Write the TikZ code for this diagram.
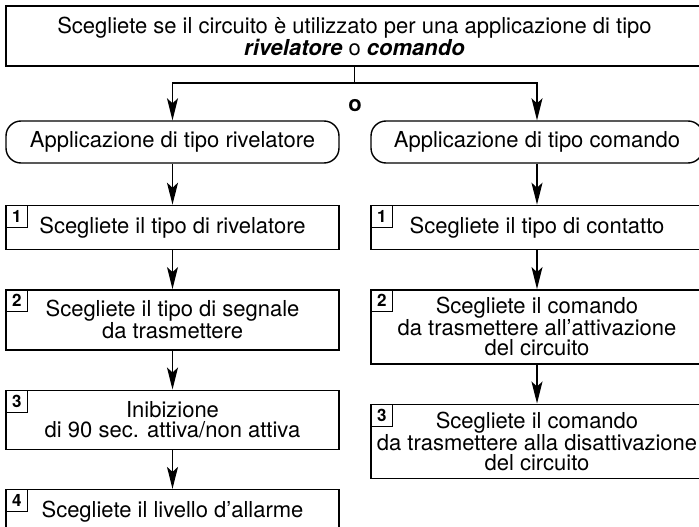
\documentclass[tikz,border=0pt]{standalone}
\usepackage{fontspec}
\setmainfont{TeX Gyre Heros}
\usetikzlibrary{arrows.meta,positioning}

\begin{document}
\begin{tikzpicture}[
  x=1pt, y=-1pt,
  box/.style={rectangle, draw, line width=1.4pt, align=center, inner sep=0pt, minimum width=333pt, font=\fontsize{22}{20}\selectfont},
  head/.style={box, rounded corners=15pt, minimum height=42pt},
  stepbox/.style={box, minimum height=44pt},
  numbox/.style={rectangle, draw, line width=1.1pt, minimum size=22pt, inner sep=0pt, anchor=north west, font=\fontsize{17}{17}\selectfont\bfseries},
  arrow/.style={-{Stealth[length=22pt, width=11pt, inset=5pt]}, line width=1.4pt},
]
  \useasboundingbox (0,0) rectangle (699,527);
  \clip (0,0) rectangle (699,527);

  \node[box, minimum width=697pt, minimum height=60pt] (choice) at (354.5,36) {Scegliete se il circuito è utilizzato per una applicazione di tipo\\\textbf{\textit{rivelatore}} o \textbf{\textit{comando}}};
  \coordinate (split) at (354.5,83);
  \node[font=\fontsize{22}{20}\selectfont\bfseries] (or) at (355,106) {o};

  % rivelatore
  \node[head] (appr) at (172.5,142) {Applicazione di tipo rivelatore};
  \node[stepbox, below=41pt of appr] (r1) {Scegliete il tipo di rivelatore};
  \node[stepbox, minimum height=60pt, below=39pt of r1] (r2) {Scegliete il tipo di segnale\\da trasmettere};
  \node[stepbox, minimum height=59pt, below=39pt of r2] (r3) {Inibizione\\di 90 sec. attiva/non attiva};
  \node[stepbox, below=39pt of r3] (r4) {Scegliete il livello d’allarme};

  % comando
  \node[head, minimum width=332pt] (appc) at (537,142) {Applicazione di tipo comando};
  \node[stepbox, minimum width=332pt, below=41pt of appc] (c1) {Scegliete il tipo di contatto};
  \node[stepbox, minimum width=332pt, minimum height=74pt, below=39pt of c1] (c2) {Scegliete il comando\\da trasmettere all’attivazione\\del circuito};
  \node[stepbox, minimum width=332pt, minimum height=74pt, below=39pt of c2] (c3) {Scegliete il comando\\da trasmettere alla disattivazione\\del circuito};

  \node[numbox] (nr1) at (r1.north west) {1};
  \node[numbox] (nr2) at (r2.north west) {2};
  \node[numbox] (nr3) at (r3.north west) {3};
  \node[numbox] (nr4) at (r4.north west) {4};
  \node[numbox] (nc1) at (c1.north west) {1};
  \node[numbox] (nc2) at (c2.north west) {2};
  \node[numbox] (nc3) at (c3.north west) {3};

  \draw[line width=1.4pt] (choice.south) -- (split);
  \draw[arrow] (split) -| (appr.north);
  \draw[arrow] (split) -| (appc.north);
  \draw[arrow] (appr) -- (r1);
  \draw[arrow] (r1) -- (r2);
  \draw[arrow] (r2) -- (r3);
  \draw[arrow] (r3) -- (r4);
  \draw[arrow] (appc) -- (c1);
  \draw[arrow] (c1) -- (c2);
  \draw[arrow] (c2) -- (c3);
\end{tikzpicture}
\end{document}
